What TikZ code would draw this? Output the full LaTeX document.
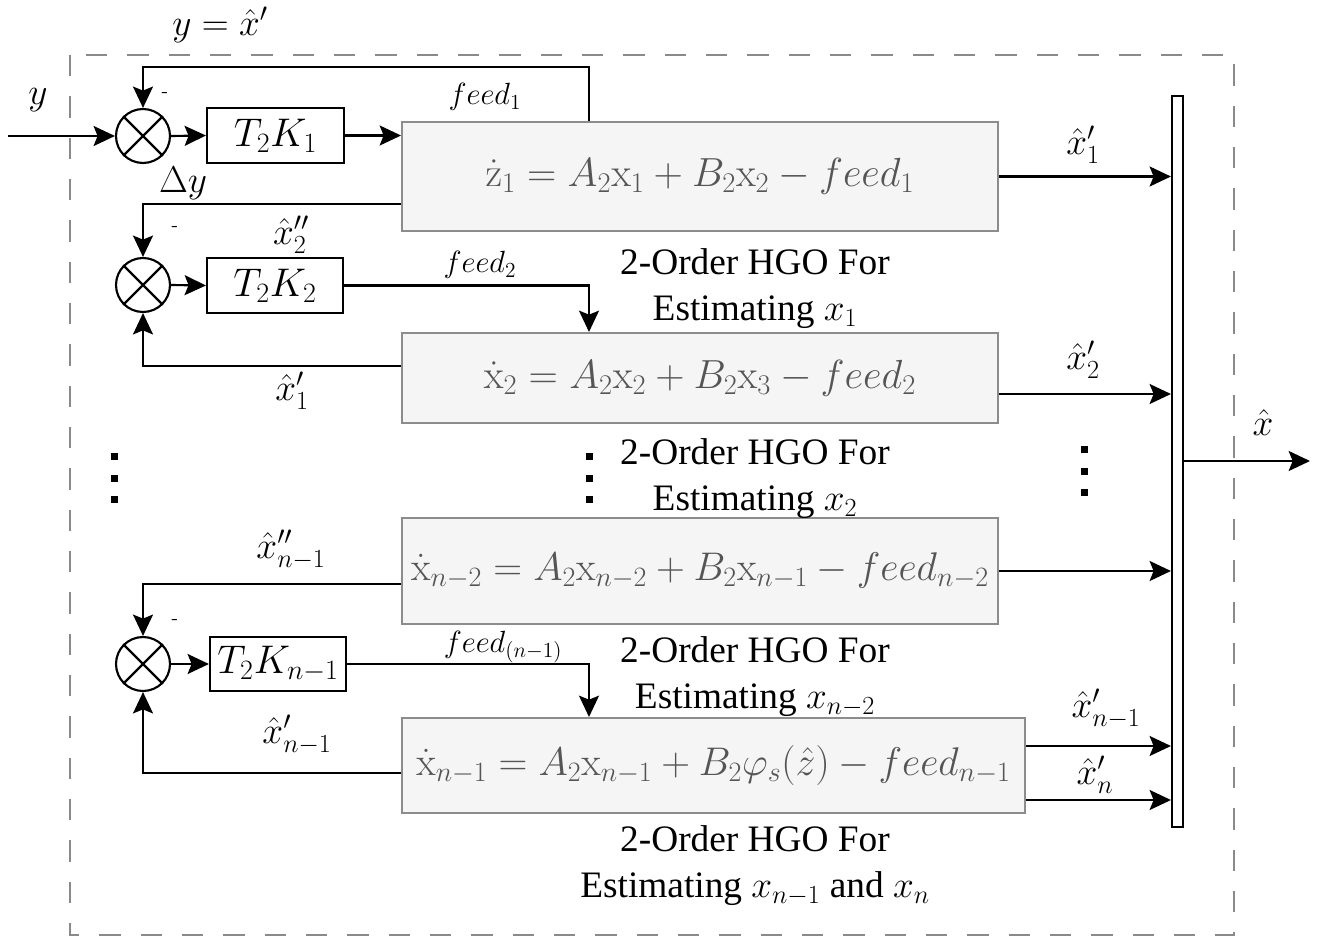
\RequirePackage{fix-cm}
\documentclass[tikz,border=0pt]{standalone}
\usepackage[no-math]{fontspec}
\newfontfamily\capfont{Liberation Serif}
\usetikzlibrary{arrows.meta,calc}
\definecolor{boxfill}{HTML}{F5F5F5}
\definecolor{boxline}{HTML}{8C8C8C}
\definecolor{eqtext}{HTML}{555555}
\definecolor{frameline}{HTML}{8A8A8A}
\begin{document}
\begin{tikzpicture}[x=0.75pt,y=-0.75pt,
  wire/.style={line width=1.6pt},
  arr/.style={wire,-{Stealth[length=16pt,width=15pt,inset=3pt]}},
  hgo/.style={draw=boxline,fill=boxfill,line width=1.5pt,inner sep=0pt,
    text=eqtext,font=\fontsize{30.5}{36}\selectfont},
  gain/.style={draw,line width=1.6pt,inner sep=0pt,font=\fontsize{30}{34}\selectfont},
  sumj/.style={draw,circle,line width=1.6pt,minimum size=40.5pt,inner sep=0pt},
  lab/.style={font=\fontsize{28}{32}\selectfont,inner sep=0pt},
  flab/.style={font=\fontsize{23}{26}\selectfont,inner sep=0pt},
  minussign/.style={font=\sffamily\fontsize{15}{16}\selectfont,inner sep=0pt},
  captext/.style={font=\capfont\fontsize{28}{34.5}\selectfont,align=center,inner sep=0pt},
  dotmark/.style={fill=black,minimum size=5.25pt,inner sep=0pt},
]
\useasboundingbox (0,0) rectangle (1319,937);

% dashed enclosure
\draw[frameline,line width=2pt,dash pattern=on 16pt off 15pt] (70,55) rectangle (1234,935);

% observer blocks
\node[hgo,minimum width=447pt,minimum height=81.75pt] (b1) at (700,176.5)
  {$\dot{\mathrm{z}}_1 = A_2\mathrm{x}_1 + B_2\mathrm{x}_2 - feed_1$};
\node[hgo,minimum width=447pt,minimum height=67.5pt] (b2) at (700,378)
  {$\dot{\mathrm{x}}_2 = A_2\mathrm{x}_2 + B_2\mathrm{x}_3 - feed_2$};
\node[hgo,minimum width=447pt,minimum height=79.5pt,font=\fontsize{30}{36}\selectfont] (b3) at (700,571)
  {$\dot{\mathrm{x}}_{n-2} = A_2\mathrm{x}_{n-2} + B_2\mathrm{x}_{n-1} - feed_{n-2}$};
\node[hgo,minimum width=467.25pt,minimum height=71.25pt,font=\fontsize{30}{36}\selectfont] (b4) at (713.5,765.5)
  {$\dot{\mathrm{x}}_{n-1} = A_2\mathrm{x}_{n-1} + B_2\varphi_s(\hat{z}) - feed_{n-1}$};

% gain blocks
\node[gain,minimum width=102.75pt,minimum height=41.25pt] (k1) at (275.5,135.5) {$T_2K_1$};
\node[gain,minimum width=102pt,minimum height=41.25pt] (k2) at (275,285.5) {$T_2K_2$};
\node[gain,minimum width=102pt,minimum height=40.5pt] (k3) at (278,664) {$T_2K_{n-1}$};

% summing junctions
\foreach \n/\yy in {s1/136,s2/285,s3/664}{
  \node[sumj] (\n) at (143,\yy) {};
  \draw[line width=1.6pt] (\n.45) -- (\n.225) (\n.135) -- (\n.315);
}

% output bus
\node[draw,fill=white,line width=1.6pt,minimum width=8.25pt,minimum height=548.25pt,inner sep=0pt]
  (bus) at (1177.5,461.5) {};

% input and forward path
\coordinate (in) at (8,136);
\draw[arr] (in) -- (s1.west);
\draw[arr] (s1.east) -- (k1.west);
\draw[arr] (k1.east) -- (k1.east -| b1.west);
\draw[arr] ([xshift=141pt]b1.north west) -- ++(0,-54) -| (s1.north);

\draw[arr] ([yshift=-20.625pt]b1.west) -| (s2.north);
\draw[arr] (s2.east) -- (k2.west);
\draw[arr] (k2.east) -| ([xshift=141pt]b2.north west);
\draw[arr] ([yshift=9pt]b2.west) -| (s2.south);

\draw[arr] ([yshift=-9.75pt]b3.west) -| (s3.north);
\draw[arr] (s3.east) -- (k3.west);
\draw[arr] (k3.east) -| ([xshift=141pt]b4.north west);
\draw[arr] ([yshift=-5.625pt]b4.west) -| (s3.south);

% estimates into the bus
\draw[arr] (b1.east) -- (b1.east -| bus.west);
\draw[arr] ([yshift=-12pt]b2.east) -- ([yshift=-12pt]b2.east -| bus.west);
\draw[arr] (b3.east) -- (b3.east -| bus.west);
\draw[arr] ([yshift=14.625pt]b4.east) -- ([yshift=14.625pt]b4.east -| bus.west);
\draw[arr] ([yshift=-25.875pt]b4.east) -- ([yshift=-25.875pt]b4.east -| bus.west);
\coordinate (out) at (1310,461);
\draw[arr] (bus.east |- out) -- (out);

% labels
\node[lab] (ly) at (220,25) {$y=\hat{x}'$};
\node[lab] (lin) at (38,100) {$y$};
\node[lab] (ldy) at (183,183) {$\Delta y$};
\node[minussign] (m1) at (165,95) {-};
\node[minussign] (m2) at (175,229) {-};
\node[minussign] (m3) at (175,622) {-};
\node[flab] (lf1) at (485,97) {$feed_1$};
\node[flab] (lf2) at (480,265) {$feed_2$};
\node[flab] (lf3) at (503,647) {$feed_{(n-1)}$};
\node[lab] (la) at (291,235) {$\hat{x}''_2$};
\node[lab] (lb) at (292,391) {$\hat{x}'_1$};
\node[lab] (lc) at (291,550) {$\hat{x}''_{n-1}$};
\node[lab] (ld) at (297,735) {$\hat{x}'_{n-1}$};
\node[lab] (o1) at (1083,145) {$\hat{x}'_1$};
\node[lab] (o2) at (1083,360) {$\hat{x}'_2$};
\node[lab] (o3) at (1106,709) {$\hat{x}'_{n-1}$};
\node[lab] (o4) at (1095,775) {$\hat{x}'_n$};
\node[lab] (o5) at (1263,423) {$\hat{x}$};

% captions
\node[captext] (c1) at (755,289) {2-Order HGO For\\Estimating $x_1$};
\node[captext] (c2) at (755,479) {2-Order HGO For\\Estimating $x_2$};
\node[captext] (c3) at (755,677) {2-Order HGO For\\Estimating $x_{n-2}$};
\node[captext] (c4) at (755,866) {2-Order HGO For\\Estimating $x_{n-1}$ and $x_n$};

% continuation dots
\foreach \xx/\yy [count=\i] in {114/456,114/478,114/499,589/456,589/478,589/499,1084/449,1084/471,1084/492}
  \node[dotmark] (dot\i) at (\xx,\yy) {};
\end{tikzpicture}
\end{document}
